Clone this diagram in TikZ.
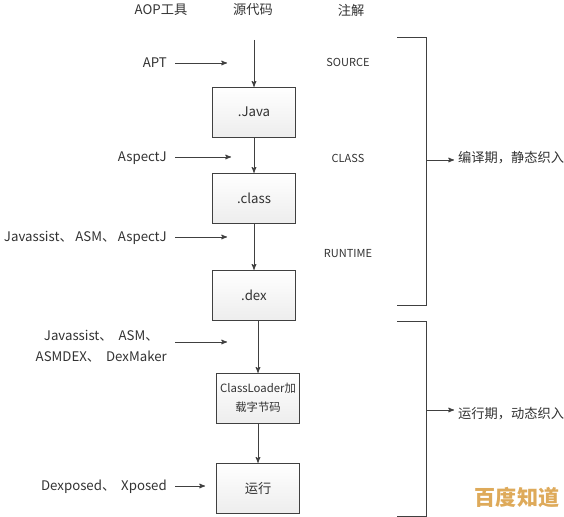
\documentclass[tikz,border=0pt]{standalone}
\usepackage{xcolor}
\usepackage{fontspec}
\setmainfont{Noto Sans CJK SC}
\usetikzlibrary{arrows, positioning}
\definecolor{linecolor}{RGB}{64,64,64}
\definecolor{textcolor}{RGB}{50,50,50}
\definecolor{markcolor}{RGB}{222,170,90}
\newcommand{\toolsep}{、\hspace{0.45em}}
\newcommand{\toolgap}{、\hspace{0.2em}}

\begin{document}
\begin{tikzpicture}[x=0.03cm, y=-0.03cm, >=stealth', font=\fontsize{11.3pt}{18pt}\selectfont, text=textcolor,
    stagebox/.style={draw=linecolor, rectangle, top color=white, bottom color=gray!14, minimum width=2.49cm, minimum height=1.5cm, inner sep=0pt, align=center},
    toollabel/.style={anchor=east, inner sep=0.24cm, align=center},
    notelabel/.style={font=\fontsize{9.4pt}{11pt}\selectfont},
    flow/.style={->, draw=linecolor, line width=0.8pt},
    bracket/.style={draw=linecolor, line width=0.8pt}]
    \useasboundingbox (0,0) rectangle (564,517);

    % column titles
    \node (toolhead) at (161,10) {AOP工具};
    \node (srchead) at (253,10) {源代码};
    \node (notehead) at (351,10) {注解};

    % stages
    \coordinate (srcstart) at (254,40);
    \node[stagebox] (java) at (254,112) {.Java};
    \node[stagebox] (class) at (254,198) {.class};
    \node[stagebox] (dex) at (254,295) {.dex};
    \node[stagebox, font=\fontsize{9.7pt}{16pt}\selectfont] (loader) at (258,398) {ClassLoader加\\载字节码};
    \node[stagebox] (run) at (258,488) {运行};

    \draw[flow] (srcstart) -- (java);
    \draw[flow] (java) -- (class);
    \draw[flow] (class) -- (dex);
    \draw[flow] (dex.south -| loader.north) -- (loader);
    \draw[flow] (loader) -- (run);

    % tools
    \node[toollabel] (apt) at (175,63) {APT};
    \node[toollabel] (aspectj) at (175,158) {AspectJ};
    \node[toollabel] (javassist) at (175,238) {Javassist\toolgap ASM\toolgap AspectJ};
    \node[toollabel] (asmdex) at (175,346) {Javassist\toolsep ASM、\\ASMDEX\toolsep DexMaker};
    \node[toollabel] (xposed) at (175,487) {Dexposed\toolsep Xposed};
    \coordinate (aptend) at (227,63);
    \coordinate (aspectjend) at (231,157);
    \coordinate (javassistend) at (227,237);
    \coordinate (asmdexend) at (227,342);
    \coordinate (xposedend) at (205,486);

    \draw[flow] (apt.east) -- (aptend);
    \draw[flow] (aspectj.east |- aspectjend) -- (aspectjend);
    \draw[flow] (javassist.east |- javassistend) -- (javassistend);
    \draw[flow] (asmdex.east |- asmdexend) -- (asmdexend);
    \draw[flow] (xposed.east |- xposedend) -- (xposedend);

    % annotations
    \node[notelabel] (source) at (348,62) {SOURCE};
    \node[notelabel] (classnote) at (348,158) {CLASS};
    \node[notelabel] (runtime) at (348,254) {RUNTIME};

    % brackets
    \coordinate (compiletop) at (397,37);
    \coordinate (compilebot) at (397,305);
    \coordinate (compileout) at (426,160);
    \coordinate (compileend) at (454,160);
    \coordinate (runtop) at (397,321);
    \coordinate (runbot) at (397,516);
    \coordinate (runout) at (426,410);
    \coordinate (runend) at (454,410);
    \draw[bracket] (compiletop) -- ++(29,0) |- (compilebot);
    \draw[bracket] (runtop) -- ++(29,0) |- (runbot);
    \draw[flow] (compileout) -- (compileend);
    \draw[flow] (runout) -- (runend);

    \node[anchor=west, inner sep=0pt] (compilelabel) at (458,158) {编译期，静态织入};
    \node[anchor=west, inner sep=0pt] (runlabel) at (458,414) {运行期，动态织入};

    % mark in the corner
    \node[text=markcolor, font=\fontsize{18pt}{18pt}\selectfont\bfseries, inner sep=0pt] (mark) at (517,498) {百度知道};
\end{tikzpicture}
\end{document}
